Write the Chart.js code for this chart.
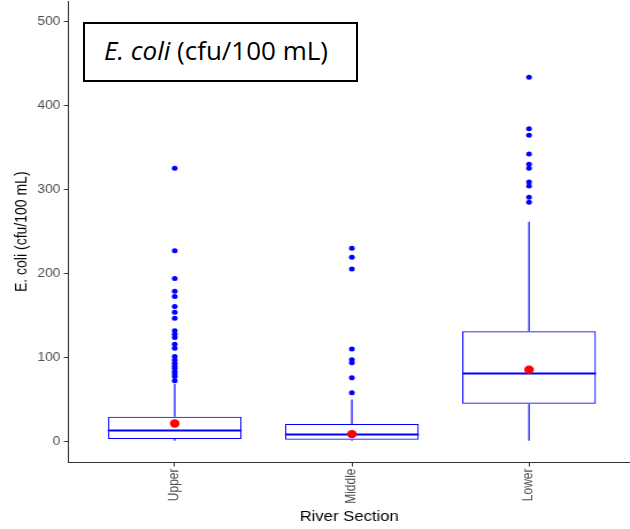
<!DOCTYPE html>
<html>
<head>
<meta charset="utf-8">
<title>E. coli by River Section</title>
<script src="https://cdn.jsdelivr.net/npm/chart.js"></script>
<style>
  html, body { margin: 0; padding: 0; background: #ffffff; overflow: hidden; }
  #wrap { position: relative; width: 630px; height: 529px; }
  #chart { position: absolute; left: 0; top: 0; }
  #label-box {
    position: absolute; left: 83px; top: 22px; width: 275px; height: 60px;
    box-sizing: border-box; border: 2px solid #000; background: #fff;
    padding-left: 19px; line-height: 52px; white-space: nowrap;
    font-family: "Open Sans", sans-serif; font-size: 26px; color: #000;
  }
</style>
</head>
<body>
<div id="wrap">
  <canvas id="chart" width="548" height="529" style="width:630px;height:529px;"></canvas>
  <div id="label-box"><i>E. coli</i> (cfu/100 mL)</div>
</div>
<script>
// River sections and their positions on the x axis
const CATEGORIES = ['Upper', 'Middle', 'Lower'];
const POSITIONS = [1, 2, 3];

// Box-plot summaries (cfu/100 mL)
const WHISKER_LOW = [1, 1, 1];
const Q1 = [3, 2, 45];
const MEDIAN = [13, 8.3, 81];
const Q3 = [29.5, 21, 131.5];
const WHISKER_HIGH = [69, 50, 262];
const MEAN = [21.4, 8.8, 85.6];

// Individual outlying samples per section
const OUTLIERS_UPPER = [325.7, 227.5, 194.2, 179.2, 172.7, 160.8, 154.2, 147.0, 131.9, 127.9,
  123.9, 116.0, 111.3, 101.3, 97.3, 93.4, 90.0, 87.4, 83.4, 80.7, 77.4, 72.3];
const OUTLIERS_MIDDLE = [230.4, 219.7, 205.7, 110.4, 97.5, 94.0, 75.9, 58.0];
const OUTLIERS_LOWER = [434.1, 372.9, 365.0, 342.7, 330.5, 325.7, 309.4, 304.6, 291.2, 285.2];

const Y_TICKS = [0, 100, 200, 300, 400, 500];

const OUTLIERS = [OUTLIERS_UPPER, OUTLIERS_MIDDLE, OUTLIERS_LOWER];

const BLUE = '#0000FF';
const RED = '#FF0000';
const AXIS = '#333333';
const TICK_TEXT = '#4D4D4D';
const FONT = '"Liberation Sans", Arial, sans-serif';
const BOX_FRACTION = 0.755;

// whisker segments: low->Q1 and Q3->high, separated by gaps
const whiskerPoints = [];
POSITIONS.forEach((x, i) => {
  whiskerPoints.push({x, y: WHISKER_LOW[i]}, {x, y: Q1[i]}, {x, y: null});
  whiskerPoints.push({x, y: Q3[i]}, {x, y: WHISKER_HIGH[i]}, {x, y: null});
});

const outlierPoints = [];
POSITIONS.forEach((x, i) => OUTLIERS[i].forEach(y => outlierPoints.push({x, y})));

const medianHalfWidth = (ctx) => {
  const s = ctx.chart.scales.x;
  return Math.abs(s.getPixelForValue(2) - s.getPixelForValue(1)) * BOX_FRACTION / 2;
};

const axisGrid = {
  display: true, drawOnChartArea: false, drawTicks: true,
  tickLength: 4, color: AXIS, lineWidth: 1, offset: false
};

new Chart(document.getElementById('chart'), {
  type: 'bar',
  data: {
    datasets: [
      {
        type: 'scatter', label: 'Mean', order: 0,
        data: POSITIONS.map((x, i) => ({x, y: MEAN[i]})),
        backgroundColor: RED, borderWidth: 0, pointRadius: 4.2, pointHoverRadius: 4.2
      },
      {
        type: 'scatter', label: 'Outliers', order: 1,
        data: outlierPoints,
        backgroundColor: BLUE, borderWidth: 0, pointRadius: 2.5, pointHoverRadius: 2.5
      },
      {
        type: 'scatter', label: 'Median', order: 2,
        data: POSITIONS.map((x, i) => ({x, y: MEDIAN[i]})),
        pointStyle: 'line', borderColor: BLUE, borderWidth: 2,
        pointRadius: medianHalfWidth, pointHoverRadius: medianHalfWidth
      },
      {
        type: 'bar', label: 'IQR', order: 3,
        data: POSITIONS.map((x, i) => ({x, y: [Q1[i], Q3[i]]})),
        backgroundColor: 'rgba(255,255,255,0)', borderColor: BLUE, borderWidth: 1.1,
        borderSkipped: false, grouped: false,
        barPercentage: BOX_FRACTION, categoryPercentage: 1
      },
      {
        type: 'line', label: 'Whiskers', order: 4,
        data: whiskerPoints,
        borderColor: BLUE, borderWidth: 1.2, pointRadius: 0, spanGaps: false, fill: false
      }
    ]
  },
  options: {
    responsive: false,
    animation: false,
    devicePixelRatio: 1,
    layout: { autoPadding: false, padding: { top: 1, left: 0, right: 0, bottom: 0 } },
    plugins: { legend: { display: false }, tooltip: { enabled: false } },
    scales: {
      x: {
        type: 'linear', min: 0.4, max: 3.57, offset: false,
        grid: axisGrid,
        border: { display: true, color: AXIS, width: 1 },
        afterBuildTicks: (s) => { s.ticks = POSITIONS.map(v => ({value: v})); },
        afterFit: (s) => { s.height = 66.5; s.paddingLeft = 0; s.paddingRight = 0; },
        ticks: {
          autoSkip: false, minRotation: 90, maxRotation: 90, padding: 2,
          color: TICK_TEXT, font: { family: FONT, size: 12 },
          callback: (v) => CATEGORIES[POSITIONS.indexOf(v)] ?? ''
        },
        title: {
          display: true, text: 'River Section', color: '#000',
          font: { family: FONT, size: 14.5 }, padding: { top: 0, bottom: 3 }
        }
      },
      y: {
        type: 'linear', min: -25, max: 525,
        grid: axisGrid,
        border: { display: true, color: AXIS, width: 1 },
        afterBuildTicks: (s) => { s.ticks = Y_TICKS.map(v => ({value: v})); },
        afterFit: (s) => { s.width = 59.5; s.paddingTop = 0; s.paddingBottom = 0; },
        ticks: {
          padding: 3, color: TICK_TEXT, font: { family: FONT, size: 12 }
        },
        title: {
          display: true, text: 'E. coli (cfu/100 mL)', color: '#000',
          font: { family: FONT, size: 14 }, padding: { top: 10.6, bottom: 0 }
        }
      }
    }
  }
});
</script>
</body>
</html>
